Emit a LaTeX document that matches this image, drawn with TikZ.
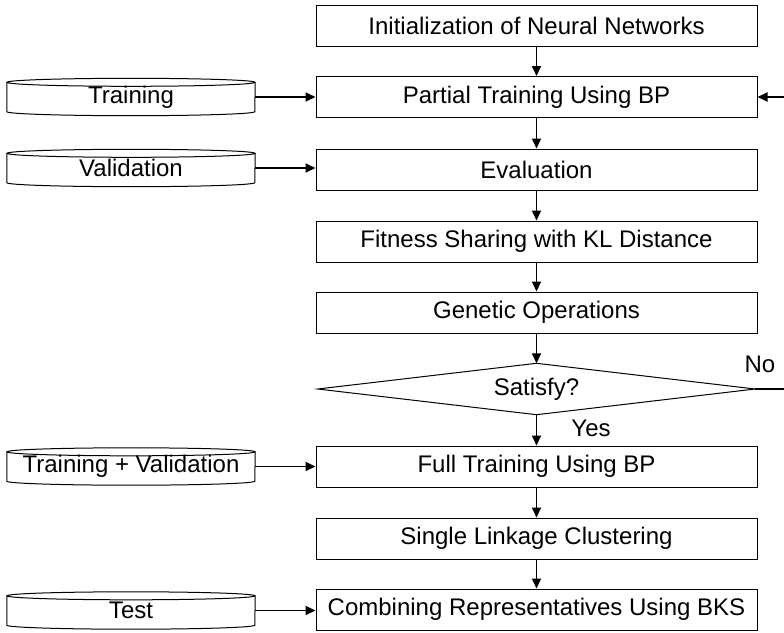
\documentclass[tikz,border=0pt]{standalone}
\usepackage{fontspec}
\setmainfont{Liberation Sans}
\usetikzlibrary{arrows.meta}
\tikzset{
  every node/.style={font=\fontsize{24}{28}\selectfont},
  box/.style={draw, line width=1pt, minimum width=441pt, minimum height=41pt, inner sep=0pt},
  db/.style={minimum width=248pt, minimum height=37pt, inner sep=0pt},
  dec/.style={minimum width=437pt, minimum height=51pt, inner sep=0pt},
  flow/.style={line width=1.8pt, -{Triangle[length=10pt,width=9pt]}},
  plain/.style={line width=1.8pt},
  lbl/.style={inner sep=0pt}
}
\newcommand\dbcyl[1]{%
  \draw[line width=1pt] ([yshift=-4pt]#1.north) ellipse [x radius=124pt, y radius=4pt];
  \draw[line width=1pt] ([yshift=-4pt]#1.north west) -- ([yshift=4pt]#1.south west)
     arc[start angle=180, end angle=360, x radius=124pt, y radius=4pt]
     -- ([yshift=-4pt]#1.north east);
}
\begin{document}
\begin{tikzpicture}[x=1pt,y=-1pt]
\useasboundingbox (0,0) rectangle (784,632);
% main column
\node[box] (init) at (536.5,25.5) {Initialization of Neural Networks};
\node[box] (part) at (536.5,97) {Partial Training Using BP};
\node[box] (eval) at (536.5,169.5) {Evaluation};
\node[box] (fit) at (536.5,241.5) {Fitness Sharing with KL Distance};
\node[box] (gen) at (536.5,312.5) {Genetic Operations};
\node[dec] (sat) at (536.5,389) {Satisfy?};
\draw[line width=1pt] (sat.north) -- (sat.east) -- (sat.south) -- (sat.west) -- cycle;
\node[box] (full) at (536.5,466.5) {Full Training Using BP};
\node[box] (single) at (536.5,538.5) {Single Linkage Clustering};
\node[box] (comb) at (536.5,609.5) {Combining Representatives Using BKS};
% data stores
\node[db] (dtr) at (131,97) {Training};
\node[db] (dva) at (131,168) {Validation};
\node[db] (dtv) at (131,466.5) {Training + Validation};
\node[db] (dte) at (131,610.5) {Test};
\dbcyl{dtr}\dbcyl{dva}\dbcyl{dtv}\dbcyl{dte}
% vertical flow
\draw[flow] (init) -- (part);
\draw[flow] (part) -- (eval);
\draw[flow] (eval) -- (fit);
\draw[flow] (fit) -- (gen);
\draw[flow] (gen) -- (sat.north);
\draw[flow] (sat.south) -- (full);
\draw[flow] (full) -- (single);
\draw[flow] (single) -- (comb);
% inputs
\draw[flow] (dtr) -- (part);
\draw[flow] (dva) -- (dva -| eval.west);
\draw[flow] (dtv) -- (full);
\draw[flow] (dte) -- (dte -| comb.west);
% loop back (cut at the picture edge)
\coordinate (noend) at (784,389);
\coordinate (backin) at (784,97);
\draw[plain] (sat.east) -- (noend);
\draw[flow] (backin) -- (part.east);
\node[lbl] (no) at (760,364) {No};
\node[lbl] (yes) at (591,428) {Yes};
\end{tikzpicture}
\end{document}
